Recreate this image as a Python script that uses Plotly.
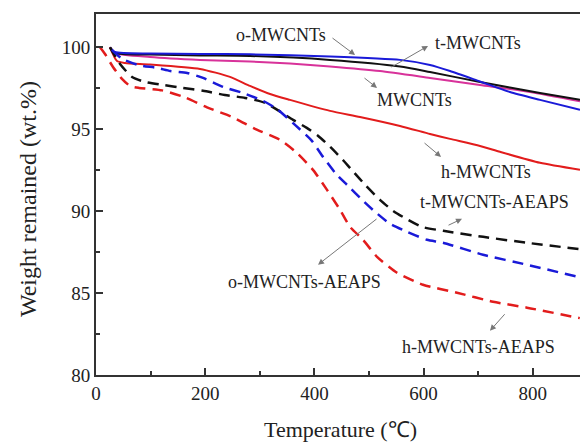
import plotly.graph_objects as go

# ---- data (temperature in °C, weight remained in wt.%) ----
mw_x = [25.6, 34.8, 98.9, 190.5, 282.1, 355.3, 428.6, 520.2, 611.7, 703.3, 794.9, 886.4]
mw_y = [100.0, 99.65, 99.41, 99.23, 99.13, 99.01, 98.83, 98.55, 98.13, 97.70, 97.27, 96.70]

o_x = [25.6, 34.8, 98.9, 190.5, 282.1, 428.6, 556.8, 611.7, 703.3, 813.2, 886.4]
o_y = [100.0, 99.65, 99.56, 99.50, 99.47, 99.23, 98.83, 98.49, 97.88, 97.21, 96.79]

t_x = [25.6, 34.8, 98.9, 190.5, 282.1, 428.6, 556.8, 611.7, 648.4, 703.3, 758.2, 813.2, 886.4]
t_y = [100.0, 99.71, 99.62, 99.59, 99.57, 99.44, 99.23, 98.92, 98.55, 97.91, 97.27, 96.79, 96.18]

h_x = [25.6, 38.5, 53.1, 98.9, 190.5, 245.4, 282.1, 318.7, 355.3, 428.6, 483.5, 556.8, 611.7, 648.4, 703.3, 739.9, 813.2, 886.4]
h_y = [100.0, 99.16, 99.04, 98.95, 98.68, 98.19, 97.64, 97.15, 96.79, 96.12, 95.75, 95.20, 94.71, 94.41, 93.98, 93.62, 92.95, 92.52]

oa_x = [25.6, 44, 66, 90, 123, 159, 196, 236, 273, 310, 361, 386, 407, 429, 452, 473, 493, 520, 544, 562, 597, 636, 709, 789, 886]
oa_y = [100.0, 98.98, 98.19, 97.88, 97.70, 97.52, 97.34, 97.09, 96.91, 96.60, 95.57, 95.08, 94.59, 93.92, 93.13, 92.34, 91.60, 90.69, 90.02, 89.65, 89.04, 88.80, 88.43, 88.07, 87.68]

ta_x = [29, 48, 77, 112, 136, 167, 196, 233, 269, 306, 331, 364.5, 393.8, 415.8, 439.6, 461.6, 485.4, 511.0, 538.5, 569.6, 606.2, 635.5, 708.8, 789.3, 886]
ta_y = [99.84, 99.29, 98.92, 98.74, 98.55, 98.43, 98.13, 97.58, 97.21, 96.73, 96.24, 95.26, 94.35, 93.31, 92.27, 91.54, 90.75, 89.96, 89.23, 88.74, 88.25, 88.07, 87.34, 86.73, 85.96]

ha_x = [7.3, 16.5, 31.1, 47.6, 62.3, 78.8, 120.9, 163, 203.3, 249.1, 291.2, 337, 368.1, 397.4, 423.1, 446.9, 465.2, 489.0, 514.7, 551.3, 598.9, 661.2, 727.1, 789.4, 886]
ha_y = [100.0, 99.59, 98.80, 98.07, 97.64, 97.52, 97.37, 96.94, 96.33, 95.75, 95.02, 94.35, 93.55, 92.52, 91.30, 90.08, 89.04, 88.25, 87.21, 86.24, 85.51, 85.02, 84.47, 84.11, 83.47]

x_ticks = [0, 200, 400, 600, 800]
y_ticks = [80, 85, 90, 95, 100]

# labels: (text, text_x, text_y, tail_x, tail_y, head_x, head_y)
labels = [
    ("o-MWCNTs", 338.8, 100.75, 430.4, 100.63, 474.4, 99.53),
    ("t-MWCNTs", 699.6, 100.26, 538.5, 98.74, 608.1, 100.08),
    ("MWCNTs", 584.2, 96.79, 489.0, 98.19, 514.7, 97.52),
    ("h-MWCNTs", 714.3, 92.40, 598.9, 94.23, 631.9, 93.31),
    ("t-MWCNTs-AEAPS", 729.0, 90.57, 642.9, 89.10, 670.3, 89.53),
    ("o-MWCNTs-AEAPS", 381.0, 85.69, 516.5, 89.59, 406.6, 86.73),
    ("h-MWCNTs-AEAPS", 699.6, 81.73, 750.9, 83.80, 721.6, 82.70),
]

FONT = "Liberation Serif, Times New Roman, serif"

fig = go.Figure()
series = [
    ("MWCNTs", mw_x, mw_y, "#d8329a", "solid", 2),
    ("o-MWCNTs", o_x, o_y, "#111111", "solid", 2),
    ("t-MWCNTs", t_x, t_y, "#1a1ad8", "solid", 2),
    ("h-MWCNTs", h_x, h_y, "#e21c1c", "solid", 2),
    ("o-MWCNTs-AEAPS", oa_x, oa_y, "#111111", "11px,7px", 2.5),
    ("t-MWCNTs-AEAPS", ta_x, ta_y, "#1a1ad8", "11px,7px", 2.5),
    ("h-MWCNTs-AEAPS", ha_x, ha_y, "#e21c1c", "11px,7px", 2.5),
]
for name, xs, ys, col, dash, w in series:
    fig.add_trace(go.Scatter(x=xs, y=ys, mode="lines", name=name,
                             line=dict(color=col, dash=dash, width=w, shape="spline", smoothing=0.6)))

for text, tx, ty, ax_, ay_, hx, hy in labels:
    fig.add_annotation(x=tx, y=ty, text=text, showarrow=False,
                       font=dict(family=FONT, size=18, color="#222"))
    fig.add_annotation(x=hx, y=hy, ax=ax_, ay=ay_, axref="x", ayref="y", text="",
                       showarrow=True, arrowhead=2, arrowsize=1.2, arrowwidth=1,
                       arrowcolor="#777777", standoff=0, startstandoff=0)

# axis titles as annotations
fig.add_annotation(xref="paper", yref="paper", x=-0.1405, y=0.4875, text="Weight remained (wt.%)",
                   textangle=-90, showarrow=False, xanchor="center", yanchor="middle",
                   font=dict(family=FONT, size=24, color="#222"))
fig.add_annotation(xref="paper", yref="paper", x=0.506, y=-0.1496, text="Temperature (℃)",
                   showarrow=False, xanchor="center", yanchor="middle",
                   font=dict(family=FONT, size=22, color="#222"))

fig.update_xaxes(range=[0, 886.4], tickvals=x_ticks, ticks="inside", ticklen=7, tickwidth=1.5,
                 tickcolor="#333", showline=True, linecolor="#333", linewidth=2, mirror=True,
                 showgrid=False, zeroline=False,
                 minor=dict(ticks="inside", ticklen=4, dtick=100, tickcolor="#333", tickwidth=1.5),
                 tickfont=dict(family=FONT, size=19, color="#222"))
fig.update_yaxes(range=[80, 102.03], tickvals=y_ticks, ticks="inside", ticklen=7, tickwidth=1.5,
                 tickcolor="#333", showline=True, linecolor="#333", linewidth=2,
                 showgrid=False, zeroline=False,
                 minor=dict(ticks="inside", ticklen=4, dtick=2.5, tickcolor="#333", tickwidth=1.5),
                 tickfont=dict(family=FONT, size=19, color="#222"))

fig.update_layout(width=580, height=442, margin=dict(l=96, r=0, t=14, b=67),
                  paper_bgcolor="white", plot_bgcolor="white", showlegend=False)

fig.write_html("out.html")
